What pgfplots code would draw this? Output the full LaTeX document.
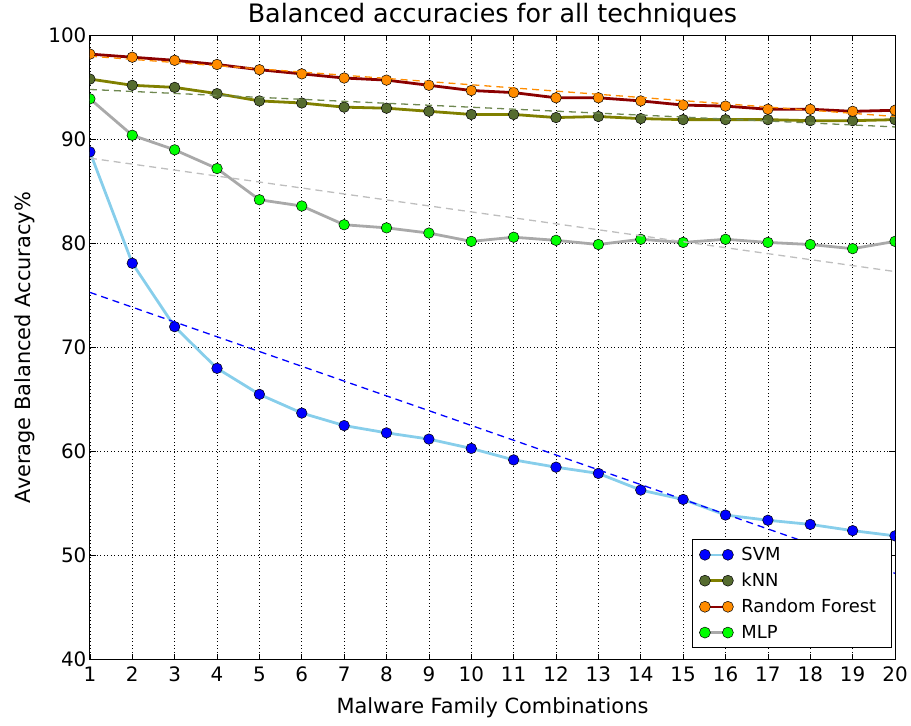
\documentclass[border=0pt]{standalone}
\usepackage{pgfplots}
\pgfplotsset{compat=1.18}
\usepackage{fontspec}
\setmainfont{DejaVu Sans}

\definecolor{skyblue}{RGB}{135,206,235}
\definecolor{olivel}{RGB}{128,128,0}
\definecolor{dolive}{RGB}{85,107,47}
\definecolor{dred}{RGB}{139,0,0}
\definecolor{dorange}{RGB}{255,140,0}
\definecolor{dgray}{RGB}{169,169,169}
\definecolor{lime}{RGB}{0,255,0}
\definecolor{trendknn}{RGB}{110,135,80}
\definecolor{trendmlp}{RGB}{190,190,190}

\begin{document}
\begin{tikzpicture}
\begin{axis}[
    scale only axis,
    width=806bp,
    height=625bp,
    xmin=1, xmax=20,
    ymin=40, ymax=100,
    xtick={1,...,20},
    ytick={40,50,...,100},
    grid=major,
    grid style={black, line width=0.6bp, dash pattern=on 1bp off 2.5bp},
    axis line style={black, line width=1bp},
    tick align=inside,
    tick pos=both,
    major tick length=6bp,
    tick style={black, line width=0.8bp},
    ticklabel style={font=\fontsize{20}{24}\selectfont},
    xticklabel style={yshift=-4bp},
    /pgf/number format/assume math mode=true,
    xlabel={Malware Family Combinations},
    ylabel={Average Balanced Accuracy\%},
    label style={font=\fontsize{21}{25}\selectfont},
    xlabel style={yshift=-9bp},
    ylabel style={yshift=7bp},
    title={Balanced accuracies for all techniques},
    title style={font=\fontsize{25.5}{30}\selectfont, yshift=-2bp},
    clip marker paths=true,
    legend style={
        at={(0.996,0.018)},
        anchor=south east,
        draw=black,
        line width=1.2bp,
        font=\fontsize{18}{22}\selectfont,
        row sep=7bp,
        inner xsep=7bp,
        inner ysep=6bp,
        nodes={inner xsep=8bp},
    },
    legend cell align=left,
    legend image code/.code={
        \draw[line width=2.5bp, mark size=5.5bp] plot coordinates {(0bp,0bp) (23bp,0bp)};
    },
]

% SVM
\addplot[color=skyblue, line width=2.8bp, mark=*, mark size=5.3bp,
    mark options={fill=blue, draw=black, line width=0.5bp, solid}]
coordinates {
(1,88.8) (2,78.1) (3,72.0) (4,68.0) (5,65.5)
(6,63.7) (7,62.5) (8,61.8) (9,61.2) (10,60.3)
(11,59.2) (12,58.5) (13,57.9) (14,56.3) (15,55.4)
(16,53.9) (17,53.4) (18,53.0) (19,52.4) (20,51.9)
};
\addlegendentry{SVM}
\addplot[forget plot, color=blue, line width=1.3bp, dash pattern=on 7bp off 5bp]
coordinates {(1,75.3) (20,48.3)};

% kNN
\addplot[color=olivel, line width=2.8bp, mark=*, mark size=5.3bp,
    mark options={fill=dolive, draw=black, line width=0.5bp, solid}]
coordinates {
(1,95.8) (2,95.2) (3,95.0) (4,94.4) (5,93.7)
(6,93.5) (7,93.1) (8,93.0) (9,92.7) (10,92.4)
(11,92.4) (12,92.1) (13,92.2) (14,92.0) (15,91.9)
(16,91.9) (17,91.9) (18,91.8) (19,91.8) (20,91.9)
};
\addlegendentry{kNN}
\addplot[forget plot, color=trendknn, line width=1.3bp, dash pattern=on 7bp off 5bp]
coordinates {(1,94.8) (20,91.2)};

% Random Forest
\addplot[color=dred, line width=2.8bp, mark=*, mark size=5.3bp,
    mark options={fill=dorange, draw=black, line width=0.5bp, solid}]
coordinates {
(1,98.2) (2,97.9) (3,97.6) (4,97.2) (5,96.7)
(6,96.3) (7,95.9) (8,95.7) (9,95.2) (10,94.7)
(11,94.5) (12,94.0) (13,94.0) (14,93.7) (15,93.3)
(16,93.2) (17,92.9) (18,92.9) (19,92.7) (20,92.8)
};
\addlegendentry{Random Forest}
\addplot[forget plot, color=dorange, line width=1.3bp, dash pattern=on 7bp off 5bp]
coordinates {(1,98.0) (20,92.2)};

% MLP
\addplot[color=dgray, line width=2.8bp, mark=*, mark size=5.3bp,
    mark options={fill=lime, draw=black, line width=0.5bp, solid}]
coordinates {
(1,93.9) (2,90.4) (3,89.0) (4,87.2) (5,84.2)
(6,83.6) (7,81.8) (8,81.5) (9,81.0) (10,80.2)
(11,80.6) (12,80.3) (13,79.9) (14,80.4) (15,80.1)
(16,80.4) (17,80.1) (18,79.9) (19,79.5) (20,80.2)
};
\addlegendentry{MLP}
\addplot[forget plot, color=trendmlp, line width=1.3bp, dash pattern=on 7bp off 5bp]
coordinates {(1,88.2) (20,77.3)};

\end{axis}
\path (current axis.south west) ++(-90bp,-66bp) coordinate (bbA);
\path (current axis.north east) ++(15bp,34bp) coordinate (bbB);
\path (bbA) rectangle (bbB);
\end{tikzpicture}
\end{document}
